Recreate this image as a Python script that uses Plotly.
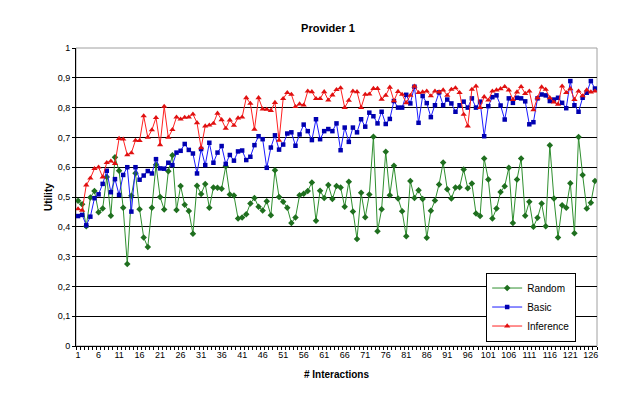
import plotly.graph_objects as go

interactions = list(range(1, 128))

random_vals = [
    0.487, 0.476, 0.402, 0.498, 0.520, 0.449, 0.461, 0.567, 0.437, 0.633,
    0.588, 0.464, 0.275, 0.504, 0.580, 0.459, 0.364, 0.332, 0.464, 0.608,
    0.500, 0.458, 0.586, 0.640, 0.456, 0.537, 0.474, 0.453, 0.377, 0.538,
    0.510, 0.544, 0.464, 0.532, 0.531, 0.528, 0.603, 0.508, 0.505, 0.428,
    0.431, 0.442, 0.478, 0.497, 0.467, 0.455, 0.486, 0.439, 0.590, 0.500,
    0.484, 0.464, 0.413, 0.431, 0.506, 0.511, 0.520, 0.549, 0.420, 0.521,
    0.497, 0.540, 0.493, 0.537, 0.532, 0.467, 0.551, 0.451, 0.359, 0.514,
    0.432, 0.508, 0.702, 0.385, 0.459, 0.652, 0.506, 0.605, 0.495, 0.452,
    0.368, 0.554, 0.497, 0.523, 0.493, 0.363, 0.454, 0.488, 0.542, 0.616,
    0.526, 0.495, 0.532, 0.533, 0.592, 0.529, 0.545, 0.445, 0.436, 0.629,
    0.559, 0.428, 0.461, 0.517, 0.536, 0.598, 0.413, 0.559, 0.629, 0.437,
    0.484, 0.400, 0.430, 0.478, 0.402, 0.674, 0.495, 0.364, 0.472, 0.464,
    0.546, 0.378, 0.701, 0.574, 0.461, 0.481, 0.554,
]

basic_vals = [
    0.436, 0.440, 0.405, 0.434, 0.496, 0.509, 0.544, 0.588, 0.516, 0.560,
    0.507, 0.574, 0.600, 0.451, 0.600, 0.558, 0.572, 0.587, 0.579, 0.627,
    0.596, 0.595, 0.615, 0.607, 0.649, 0.655, 0.678, 0.658, 0.646, 0.579,
    0.661, 0.607, 0.682, 0.615, 0.649, 0.671, 0.611, 0.641, 0.622, 0.653,
    0.656, 0.624, 0.635, 0.674, 0.704, 0.694, 0.598, 0.666, 0.707, 0.659,
    0.676, 0.713, 0.717, 0.672, 0.710, 0.743, 0.721, 0.691, 0.761, 0.694,
    0.721, 0.728, 0.721, 0.747, 0.657, 0.733, 0.685, 0.733, 0.717, 0.761,
    0.736, 0.783, 0.771, 0.747, 0.786, 0.745, 0.762, 0.822, 0.800, 0.800,
    0.843, 0.814, 0.870, 0.749, 0.839, 0.815, 0.768, 0.808, 0.851, 0.808,
    0.827, 0.814, 0.786, 0.808, 0.820, 0.800, 0.831, 0.800, 0.820, 0.704,
    0.805, 0.835, 0.841, 0.807, 0.760, 0.831, 0.816, 0.833, 0.831, 0.821,
    0.744, 0.751, 0.831, 0.844, 0.841, 0.822, 0.827, 0.833, 0.816, 0.798,
    0.889, 0.808, 0.786, 0.833, 0.850, 0.889, 0.864,
]

inference_vals = [
    0.460, 0.455, 0.540, 0.563, 0.595, 0.600, 0.567, 0.615, 0.620, 0.612,
    0.696, 0.694, 0.641, 0.648, 0.690, 0.689, 0.772, 0.700, 0.725, 0.766,
    0.675, 0.804, 0.700, 0.726, 0.768, 0.761, 0.767, 0.768, 0.778, 0.749,
    0.665, 0.738, 0.741, 0.747, 0.781, 0.759, 0.730, 0.758, 0.740, 0.765,
    0.768, 0.833, 0.814, 0.727, 0.833, 0.795, 0.794, 0.790, 0.817, 0.690,
    0.830, 0.850, 0.844, 0.803, 0.812, 0.808, 0.855, 0.853, 0.830, 0.830,
    0.853, 0.825, 0.842, 0.860, 0.866, 0.800, 0.824, 0.855, 0.853, 0.800,
    0.844, 0.845, 0.864, 0.864, 0.828, 0.841, 0.868, 0.823, 0.854, 0.844,
    0.816, 0.841, 0.872, 0.850, 0.852, 0.855, 0.839, 0.855, 0.852, 0.859,
    0.841, 0.861, 0.866, 0.850, 0.777, 0.738, 0.861, 0.872, 0.800, 0.836,
    0.825, 0.855, 0.859, 0.863, 0.870, 0.859, 0.827, 0.852, 0.870, 0.847,
    0.855, 0.792, 0.833, 0.869, 0.861, 0.833, 0.818, 0.811, 0.872, 0.850,
    0.863, 0.827, 0.855, 0.839, 0.859, 0.852, 0.855,
]

series_names = ["Random", "Basic", "Inference"]
y_tick_vals = [i / 10 for i in range(11)]
y_tick_text = ["0", "0,1", "0,2", "0,3", "0,4", "0,5", "0,6", "0,7", "0,8", "0,9", "1"]
x_tick_vals = list(range(1, 128, 5))

FONT = "Arial, Liberation Sans, sans-serif"

fig = go.Figure()
fig.add_trace(go.Scatter(
    x=interactions, y=random_vals, name=series_names[0], mode="lines+markers",
    line=dict(color="#2f8f2f", width=1),
    marker=dict(symbol="diamond", size=5, color="#1f6f1f"),
))
fig.add_trace(go.Scatter(
    x=interactions, y=basic_vals, name=series_names[1], mode="lines+markers",
    line=dict(color="#1a1aff", width=1),
    marker=dict(symbol="square", size=4.5, color="#0000b0"),
))
fig.add_trace(go.Scatter(
    x=interactions, y=inference_vals, name=series_names[2], mode="lines+markers",
    line=dict(color="#ff2020", width=1),
    marker=dict(symbol="triangle-up", size=5.5, color="#e01010"),
))

fig.update_layout(
    width=640, height=397,
    margin=dict(l=68, r=51, t=40, b=59),
    paper_bgcolor="white", plot_bgcolor="white",
    font=dict(family=FONT, size=9, color="black"),
    title=dict(text="<b>Provider 1</b>", x=0.5, xref="container", xanchor="center",
               y=1 - 20 / 397, yref="container", yanchor="middle",
               font=dict(family=FONT, size=11, color="black")),
    showlegend=True,
    legend=dict(x=0.96, xanchor="right", y=0.015, yanchor="bottom",
                bgcolor="white", bordercolor="black", borderwidth=1,
                font=dict(family=FONT, size=10, color="black"),
                tracegroupgap=0, itemwidth=30),
)

fig.update_xaxes(
    range=[0.5, 127.5], tickmode="array", tickvals=x_tick_vals,
    ticks="", showgrid=False, zeroline=False,
    showline=True, linecolor="black", linewidth=1,
    tickfont=dict(family=FONT, size=9, color="black"),
    minor=dict(tickmode="linear", tick0=0.5, dtick=1, ticks="outside",
               ticklen=3, tickcolor="black", tickwidth=1, showgrid=False),
)
fig.update_yaxes(
    range=[0, 1], tickmode="array", tickvals=y_tick_vals, ticktext=y_tick_text,
    ticks="outside", ticklen=3, tickcolor="black",
    showgrid=True, gridcolor="black", gridwidth=1, zeroline=False,
    showline=True, linecolor="black", linewidth=1,
    tickfont=dict(family=FONT, size=9, color="black"),
)

# plot area border (grey, Excel style)
fig.add_shape(type="rect", xref="paper", yref="paper", x0=0, y0=0, x1=1, y1=1,
              line=dict(color="#a0a0a0", width=1), layer="below")

fig.add_annotation(text="<b>Utility</b>", xref="paper", yref="paper",
                   x=-28 / 521, y=0.5, xanchor="center", yanchor="middle",
                   textangle=-90, showarrow=False,
                   font=dict(family=FONT, size=10, color="black"))
fig.add_annotation(text="<b># Interactions</b>", xref="paper", yref="paper",
                   x=0.5, y=-28 / 298, xanchor="center", yanchor="middle",
                   showarrow=False,
                   font=dict(family=FONT, size=10, color="black"))

fig.write_html("out.html")
